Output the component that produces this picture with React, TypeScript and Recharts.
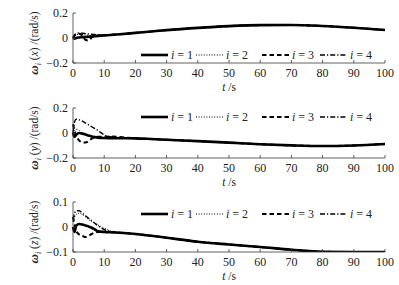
import React from "react"
import { LineChart, Line, XAxis, YAxis, Legend, Label } from "recharts"

const timeS = [0, 0.5, 1, 2, 3, 4, 5, 6, 7, 8, 10, 12, 15, 20, 25, 30, 40, 50, 60, 70, 80, 90, 100]
const xTicks = [0, 10, 20, 30, 40, 50, 60, 70, 80, 90, 100]
const seriesNames = ["i = 1", "i = 2", "i = 3", "i = 4"]

// ω_i(x)
const wx1 = [0, -0.005, 0, 0.004, 0.006, 0.008, 0.01, 0.012, 0.014, 0.016, 0.02, 0.024, 0.03, 0.041, 0.052, 0.063, 0.081, 0.095, 0.103, 0.104, 0.096, 0.082, 0.064]
const wx2 = [0, 0.015, 0.025, 0.03, 0.028, 0.025, 0.022, 0.02, 0.02, 0.02, 0.022, 0.025, 0.03, 0.041, 0.052, 0.063, 0.081, 0.095, 0.103, 0.104, 0.096, 0.082, 0.064]
const wx3 = [0, 0.02, 0.03, 0.035, 0.02, -0.015, -0.02, 0.005, 0.018, 0.02, 0.022, 0.025, 0.03, 0.041, 0.052, 0.063, 0.081, 0.095, 0.103, 0.104, 0.096, 0.082, 0.064]
const wx4 = [0, 0.025, 0.035, 0.04, 0.038, 0.035, 0.032, 0.03, 0.028, 0.026, 0.024, 0.026, 0.03, 0.041, 0.052, 0.063, 0.081, 0.095, 0.103, 0.104, 0.096, 0.082, 0.064]

// ω_i(y)
const wy1 = [0, -0.03, -0.015, 0, -0.005, -0.012, -0.02, -0.028, -0.033, -0.037, -0.04, -0.041, -0.042, -0.043, -0.048, -0.054, -0.065, -0.077, -0.09, -0.099, -0.104, -0.1, -0.088]
const wy2 = [0, 0.02, 0.03, 0.02, 0, -0.015, -0.025, -0.03, -0.035, -0.037, -0.038, -0.04, -0.042, -0.043, -0.048, -0.054, -0.065, -0.077, -0.09, -0.099, -0.104, -0.1, -0.088]
const wy3 = [0.07, 0.02, -0.02, -0.06, -0.075, -0.075, -0.065, -0.045, -0.035, -0.03, -0.03, -0.028, -0.032, -0.043, -0.048, -0.054, -0.065, -0.077, -0.09, -0.099, -0.104, -0.1, -0.088]
const wy4 = [0, 0.09, 0.11, 0.105, 0.095, 0.08, 0.065, 0.05, 0.035, 0.02, -0.015, -0.03, -0.036, -0.043, -0.048, -0.054, -0.065, -0.077, -0.09, -0.099, -0.104, -0.1, -0.088]

// ω_i(z)
const wz1 = [0, -0.02, 0.005, 0.012, 0.01, 0.006, 0.002, -0.003, -0.01, -0.017, -0.02, -0.021, -0.023, -0.028, -0.035, -0.043, -0.059, -0.07, -0.08, -0.091, -0.099, -0.1, -0.1]
const wz2 = [0.02, 0.04, 0.05, 0.055, 0.05, 0.04, 0.03, 0.022, 0.015, 0.008, -0.005, -0.015, -0.022, -0.028, -0.035, -0.043, -0.059, -0.07, -0.08, -0.091, -0.099, -0.1, -0.1]
const wz3 = [0.04, 0.01, -0.015, -0.03, -0.035, -0.04, -0.035, -0.028, -0.022, -0.02, -0.02, -0.021, -0.023, -0.028, -0.035, -0.043, -0.059, -0.07, -0.08, -0.091, -0.099, -0.1, -0.1]
const wz4 = [0.03, 0.055, 0.065, 0.065, 0.055, 0.045, 0.035, 0.025, 0.015, 0.005, -0.01, -0.018, -0.022, -0.028, -0.035, -0.043, -0.059, -0.07, -0.08, -0.091, -0.099, -0.1, -0.1]

const FONT = "'Liberation Serif', 'DejaVu Serif', serif"
const FRAME = "#3a3a3a"
const FS = 12

const styles = [
  { key: "s1", width: 2.6, dash: undefined },
  { key: "s2", width: 1, dash: "1 1.6" },
  { key: "s3", width: 2, dash: "4.5 3" },
  { key: "s4", width: 1.4, dash: "5 2 1.2 2" },
]

const fmt = (v: number) => (v < 0 ? "\u2212" + String(-v) : String(v))

function BottomTick(props: any) {
  const { x, y, payload } = props
  return (
    <g>
      <line x1={x} y1={y} x2={x} y2={y - 3} stroke={FRAME} strokeWidth={0.8} />
      <text x={x} y={y + 14} textAnchor="middle" fontFamily={FONT} fontSize={FS} fill="#222">
        {payload.value}
      </text>
    </g>
  )
}

function TopTick(props: any) {
  const { x, y } = props
  return <line x1={x} y1={y} x2={x} y2={y + 3} stroke={FRAME} strokeWidth={0.8} />
}

function LeftTick(props: any) {
  const { x, y, payload } = props
  return (
    <g>
      <line x1={x} y1={y} x2={x + 3} y2={y} stroke={FRAME} strokeWidth={0.8} />
      <text x={x - 5} y={y + 4} textAnchor="end" fontFamily={FONT} fontSize={FS} fill="#222">
        {fmt(payload.value)}
      </text>
    </g>
  )
}

function RightTick(props: any) {
  const { x, y } = props
  return <line x1={x} y1={y} x2={x - 3} y2={y} stroke={FRAME} strokeWidth={0.8} />
}

function LegendRow() {
  const offsets = [0, 55, 121, 179]
  return (
    <svg width={245} height={12} style={{ display: "block" }}>
      {seriesNames.map((name, k) => (
        <g key={name} transform={`translate(${offsets[k]},0)`}>
          <line x1={0} y1={6} x2={27} y2={6} stroke="#000" strokeWidth={styles[k].width} strokeDasharray={styles[k].dash} />
          <text x={30} y={10} fontFamily={FONT} fontSize={FS} fill="#222">
            <tspan fontStyle="italic">i</tspan>
            {" = " + name.slice(4)}
          </text>
        </g>
      ))}
    </svg>
  )
}

type PanelProps = {
  top: number
  axis: string
  domain: [number, number]
  yTicks: number[]
  series: number[][]
  legendTop: number
}

function Panel({ top, axis, domain, yTicks, series, legendTop }: PanelProps) {
  const rows = timeS.map((t, k) => ({ t, s1: series[0][k], s2: series[1][k], s3: series[2][k], s4: series[3][k] }))
  const order = [1, 2, 3, 0]
  return (
    <div style={{ position: "absolute", left: 0, top }}>
      <LineChart width={399} height={95} data={rows} margin={{ top: 13, right: 14, bottom: 0, left: 0 }}>
        <XAxis
          xAxisId="b"
          dataKey="t"
          type="number"
          domain={[0, 100]}
          ticks={xTicks}
          height={32}
          tickSize={0}
          tickMargin={0}
          tickLine={false}
          tick={<BottomTick />}
          axisLine={{ stroke: FRAME, strokeWidth: 0.8 }}
        >
          <Label
            content={(p: any) => {
              const vb = p.viewBox
              return (
                <text x={vb.x + vb.width / 2} y={vb.y + 28} textAnchor="middle" fontFamily={FONT} fontSize={11.5} fill="#222">
                  <tspan fontStyle="italic">t</tspan> /s
                </text>
              )
            }}
          />
        </XAxis>
        <XAxis
          xAxisId="top"
          orientation="top"
          dataKey="t"
          type="number"
          domain={[0, 100]}
          ticks={xTicks}
          height={0}
          tickSize={0}
          tickMargin={0}
          tickLine={false}
          tick={<TopTick />}
          axisLine={{ stroke: FRAME, strokeWidth: 0.8 }}
        />
        <YAxis
          yAxisId="l"
          type="number"
          domain={domain}
          ticks={yTicks}
          width={73}
          tickSize={0}
          tickMargin={0}
          tickLine={false}
          tick={<LeftTick />}
          axisLine={{ stroke: FRAME, strokeWidth: 0.8 }}
          allowDataOverflow
        >
          <Label
            content={(p: any) => {
              const vb = p.viewBox
              const cx = 38
              const cy = vb.y + vb.height / 2 + 5
              return (
                <text transform={`rotate(-90, ${cx}, ${cy})`} x={cx} y={cy} textAnchor="middle" fontFamily={FONT} fontSize={11.5} fill="#222">
                  <tspan fontStyle="italic" fontWeight="bold" fontSize={13}>ω</tspan>
                  <tspan fontStyle="italic" fontSize={8} dy={3}>i</tspan>
                  <tspan dy={-3}> (</tspan>
                  <tspan fontStyle="italic">{axis}</tspan>
                  <tspan>) /(rad/s)</tspan>
                </text>
              )
            }}
          />
        </YAxis>
        <YAxis
          yAxisId="r"
          orientation="right"
          type="number"
          domain={domain}
          ticks={yTicks}
          width={0}
          tickSize={0}
          tickMargin={0}
          tickLine={false}
          tick={<RightTick />}
          axisLine={{ stroke: FRAME, strokeWidth: 0.8 }}
          allowDataOverflow
        />
        <Legend
          layout="horizontal"
          verticalAlign="middle"
          align="center"
          wrapperStyle={{ top: legendTop, left: 141, width: 245 }}
          content={() => <LegendRow />}
        />
        {order.map((k) => (
          <Line
            key={styles[k].key}
            xAxisId="b"
            yAxisId="l"
            dataKey={styles[k].key}
            name={seriesNames[k]}
            type="monotone"
            stroke="#000"
            strokeWidth={styles[k].width}
            strokeDasharray={styles[k].dash}
            dot={false}
            activeDot={false}
            isAnimationActive={false}
          />
        ))}
      </LineChart>
    </div>
  )
}

export default function App() {
  return (
    <div style={{ position: "absolute", left: 0, top: 0, width: 399, height: 285, background: "#fff" }}>
      <Panel top={0} axis="x" domain={[-0.2, 0.2]} yTicks={[-0.2, 0, 0.2]} series={[wx1, wx2, wx3, wx4]} legendTop={49} />
      <Panel top={95} axis="y" domain={[-0.2, 0.2]} yTicks={[-0.2, 0, 0.2]} series={[wy1, wy2, wy3, wy4]} legendTop={16} />
      <Panel top={189} axis="z" domain={[-0.1, 0.1]} yTicks={[-0.1, 0, 0.1]} series={[wz1, wz2, wz3, wz4]} legendTop={19} />
    </div>
  )
}
